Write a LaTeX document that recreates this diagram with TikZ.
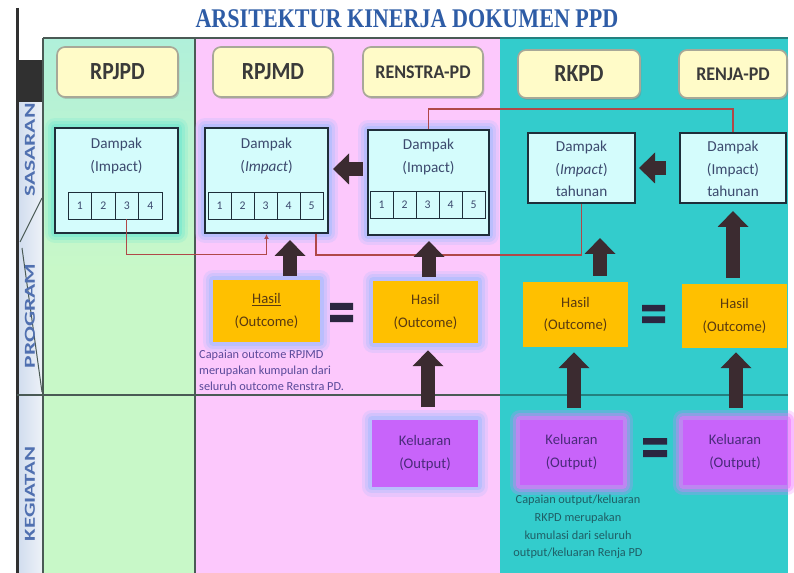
\documentclass[tikz,border=0pt]{standalone}
\usepackage{fontspec}
\setmainfont{Carlito}
\newfontfamily\titlefont{Liberation Serif}
\usepackage{graphicx}
\usetikzlibrary{arrows.meta,calc,shadows}
\definecolor{greenbg}{HTML}{C8F8C8}
\definecolor{greentop}{HTML}{B0F0DA}
\definecolor{pinkbg}{HTML}{FCC8FC}
\definecolor{tealbg}{HTML}{33CCCC}
\definecolor{sidefill1}{HTML}{D0DCEE}
\definecolor{sidefill2}{HTML}{EEF2F8}
\definecolor{sidedark}{HTML}{303030}
\definecolor{gridl}{HTML}{4A5A55}
\definecolor{tealline}{HTML}{23817F}
\definecolor{hdrfill}{HTML}{FFFBC8}
\definecolor{hdrline}{HTML}{A8A898}
\definecolor{hdrtext}{HTML}{3A3A3A}
\definecolor{impfill}{HTML}{D4FCFC}
\definecolor{impline}{HTML}{1E2E3A}
\definecolor{imptext}{HTML}{3C4A6E}
\definecolor{hasilfill}{HTML}{FFC000}
\definecolor{hasiltext}{HTML}{5A3A10}
\definecolor{kelfill}{HTML}{C864FA}
\definecolor{keltext}{HTML}{4A2A7A}
\definecolor{arrowc}{HTML}{3B2B30}
\definecolor{eqc}{HTML}{2B2640}
\definecolor{redl}{HTML}{B04848}
\definecolor{glowblue}{HTML}{A4BCFF}
\definecolor{glowgreen}{HTML}{70E8D0}
\definecolor{glowmag}{HTML}{F070FF}
\definecolor{titleblue}{HTML}{2E5CA6}
\definecolor{labelblue}{HTML}{5070B0}
\definecolor{noteone}{HTML}{5A4A9A}
\definecolor{notetwo}{HTML}{1F5F66}
\begin{document}
\begin{tikzpicture}[x=0.03cm,y=-0.03cm,
 sz/.style 2 args={minimum width=#1*0.03cm, minimum height=#2*0.03cm, inner sep=0pt},
 hdr/.style={draw=hdrline, line width=0.05cm, rounded corners=0.24cm, fill=hdrfill, text=hdrtext,
   font=\bfseries\fontsize{21}{21}\selectfont,
   drop shadow={shadow xshift=0.04cm, shadow yshift=-0.06cm, opacity=0.35}},
 hdrsmall/.style={hdr, font=\bfseries\fontsize{16.5}{16.5}\selectfont},
 glow/.style={preaction={draw=#1, line width=0.6cm, draw opacity=0.22, line join=round},
              preaction={draw=#1, line width=0.4cm, draw opacity=0.32, line join=round},
              preaction={draw=#1, line width=0.22cm, draw opacity=0.5, line join=round}},
 imp/.style={draw=impline, line width=0.06cm, fill=impfill},
 itxt/.style={align=center, text=imptext, font=\fontsize{13}{19}\selectfont, inner sep=0pt},
 cell/.style={draw=impline, line width=0.6pt, sz={#1}{27}, font=\fontsize{10}{10}\selectfont, text=imptext},
 hasil/.style={fill=hasilfill, align=center, text=hasiltext, font=\fontsize{12.5}{19.5}\selectfont},
 kel/.style={fill=kelfill, align=center, text=keltext, font=\fontsize{12.5}{19.5}\selectfont},
 blk/.style={draw=arrowc, line width=0.42cm, -{Triangle[width=0.9cm 0 0, length=0.48cm 0 0]}},
 conn/.style={draw=redl, line width=0.04cm},
 note/.style={font=\fontsize{10.5}{13.5}\selectfont, inner sep=0pt},
 sidelbl/.style={rotate=90, text=labelblue, font=\bfseries\fontsize{13}{13}\selectfont, inner sep=0pt}
]
\useasboundingbox (0,0) rectangle (794,573);
\fill[white] (0,0) rectangle (794,573);
% columns
\shade[top color=greentop, bottom color=greenbg] (43,38) rectangle (195,270);
\fill[greenbg] (43,269.5) rectangle (195,573);
\fill[pinkbg] (195,38) rectangle (500,573);
\fill[tealbg] (500,38) rectangle (788,573);
% side column
\shade[left color=sidefill1, right color=sidefill2] (17,102) rectangle (43,573);
\fill[sidedark] (17,60) rectangle (43,102);
\draw[line width=0.09cm, draw=sidedark] (17,8) -- (17,573);
\draw[line width=0.04cm, draw=gridl] (43,38) -- (43,573);
\draw[line width=0.04cm, draw=gridl] (195,38) -- (195,573);
\draw[line width=0.05cm, draw=gridl] (43,38) -- (500,38);
\draw[line width=0.05cm, draw=tealline] (500,38) -- (788,38);
\draw[line width=0.05cm, draw=gridl] (17,395) -- (500,395);
\draw[line width=0.05cm, draw=tealline] (500,395) -- (788,395);
\draw[line width=0.03cm, draw=gridl] (42,198) -- (20,242);
\draw[line width=0.03cm, draw=gridl] (22,248) -- (42,392);
\node[sidelbl] (lsas) at (30,150) {\scalebox{1.55}[1]{SASARAN}};
\node[sidelbl] (lprog) at (30,316) {\scalebox{1.55}[1]{PROGRAM}};
\node[sidelbl] (lkeg) at (30,494) {\scalebox{1.5}[1]{KEGIATAN}};
% title
\node[text=titleblue, font=\titlefont\bfseries\fontsize{23}{23}\selectfont, inner sep=0pt] (title) at (407,19)
  {\scalebox{0.82}[1]{ARSITEKTUR KINERJA DOKUMEN PPD}};
% headers
\node[hdr, sz={121}{50}] (hRPJPD) at (117.5,72) {\scalebox{0.88}[1]{RPJPD}};
\node[hdr, sz={120}{50}] (hRPJMD) at (273,72) {\scalebox{0.88}[1]{RPJMD}};
\node[hdrsmall, sz={120}{50}] (hRENSTRA) at (423,72) {\scalebox{0.93}[1]{RENSTRA-PD}};
\node[hdr, sz={122}{48}] (hRKPD) at (579,74) {\scalebox{0.88}[1]{RKPD}};
\node[hdrsmall, sz={108}{48}] (hRENJA) at (733,74) {\scalebox{0.93}[1]{RENJA-PD}};
% impact boxes
\node[imp, glow=glowgreen, sz={123}{105}] (i1) at (116.5,180.5) {};
\node[imp, glow=glowblue, sz={123}{105}] (i2) at (266.5,180.5) {};
\node[imp, glow=glowblue, sz={121}{105}] (i3) at (428.5,182.5) {};
\node[imp, sz={107}{70}] (i4) at (581.5,168) {};
\node[imp, sz={106}{70}] (i5) at (733,168) {};
\node[itxt] (t1) at (116.5,156) {Dampak\\(Impact)};
\node[itxt] (t2) at (266.5,156) {Dampak\\(\textit{Impact})};
\node[itxt] (t3) at (428.5,157) {Dampak\\(Impact)};
\node[itxt] (t4) at (581.5,169) {Dampak\\(\textit{Impact})\\tahunan};
\node[itxt] (t5) at (733,169) {Dampak\\(Impact)\\tahunan};
\foreach \k in {1,...,4} \node[cell=23.5] (c1-\k) at ({68+23.5*(\k-0.5)},205.5) {\k};
\foreach \k in {1,...,5} \node[cell=23] (c2-\k) at ({208+23*(\k-0.5)},205.5) {\k};
\foreach \k in {1,...,5} \node[cell=23] (c3-\k) at ({370+23*(\k-0.5)},205) {\k};
% hasil boxes
\node[hasil, glow=glowblue, sz={107}{62}] (hs1) at (266.5,311) {\underline{Hasil}\\(Outcome)};
\node[hasil, glow=glowblue, sz={105}{62}] (hs2) at (425.5,312) {Hasil\\(Outcome)};
\node[hasil, sz={105}{65}] (hs3) at (575.5,314.5) {Hasil\\(Outcome)};
\node[hasil, sz={105}{64}] (hs4) at (734.5,316) {Hasil\\(Outcome)};
% keluaran boxes
\node[kel, glow=glowblue, sz={106}{67}] (k1) at (425,453) {Keluaran\\(Output)};
\node[kel, glow=glowmag, sz={103}{65}] (k2) at (571.5,452.5) {Keluaran\\(Output)};
\node[kel, glow=glowmag, sz={104}{65}] (k3) at (735,452.5) {Keluaran\\(Output)};
% thin connectors
\draw[conn, -{Latex[length=0.15cm 0 0, width=0.15cm 0 0]}] (c1-3.south) -- ++(0,35) -| (i2.south);
\draw[conn] ([xshift=49.5*0.03cm]i2.south) -- ++(0,21) -| (i4.south);
\draw[conn] (i3.north) -- ++(0,-20) -| (i5.north);
% block arrows
\draw[blk] ([shift={(-4,-13.5)}]i3.west) -- ([shift={(4,-11.5)}]i2.east);
\draw[blk] ([shift={(-13,0)}]i5.west) -- ([shift={(3,0)}]i4.east);
\draw[blk] ([shift={(23.5,-4)}]hs1.north) -- ([shift={(23.5,6)}]i2.south);
\draw[blk] ([shift={(3.5,-4)}]hs2.north) -- ([shift={(0.5,5)}]i3.south);
\draw[blk] ([shift={(24.5,-6)}]hs3.north) -- ([shift={(18.5,34)}]i4.south);
\draw[blk] ([shift={(-1.5,-6)}]hs4.north) -- ([shift={(0,7)}]i5.south);
\draw[blk] ([shift={(3,-12)}]k1.north) -- ([shift={(2.5,7)}]hs2.south);
\draw[blk] ([shift={(2.5,-12)}]k2.north) -- ([shift={(-1.5,5)}]hs3.south);
\draw[blk] ([shift={(1,-12)}]k3.north) -- ([shift={(1.5,4)}]hs4.south);
% equal signs
\fill[eqc] (330,303) rectangle (353,310) (330,315) rectangle (353,322);
\fill[eqc] (642,305) rectangle (665,311.5) (642,316.5) rectangle (665,323);
\fill[eqc] (643,438) rectangle (667,444.5) (643,450) rectangle (667,457);
% notes
\node[note, text=noteone, align=left, anchor=west] (n1) at (199,370)
  {Capaian outcome RPJMD\\merupakan kumpulan dari\\seluruh outcome Renstra PD.};
\node[note, text=notetwo, align=center, font=\fontsize{10.5}{15}\selectfont] (n2) at (578,527)
  {Capaian output/keluaran\\RKPD merupakan\\kumulasi dari seluruh\\output/keluaran Renja PD};
\end{tikzpicture}
\end{document}
